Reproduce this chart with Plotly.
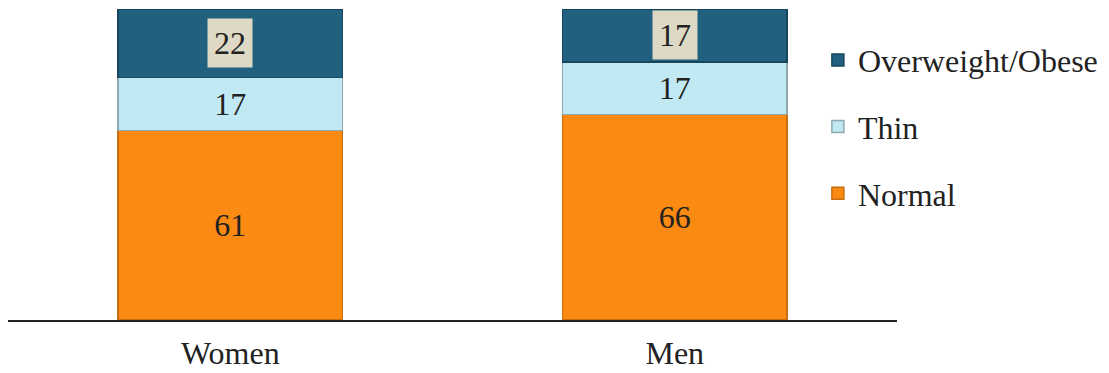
import plotly.graph_objects as go

categories = ["Women", "Men"]
normal = [61, 66]
thin = [17, 17]
overweight = [22, 17]

FONT = "Liberation Serif"
FS = 32
fig = go.Figure()
fig.add_trace(go.Bar(x=categories, y=normal, name="Normal", legendrank=3,
                     marker=dict(color="#FA8A12", line=dict(color="#C86E0E", width=1.5)),
                     text=normal, textposition="inside", insidetextanchor="middle",
                     textfont=dict(family=FONT, size=FS, color="#222222"), legendgroup="c"))
fig.add_trace(go.Bar(x=categories, y=thin, name="Thin", legendrank=2,
                     marker=dict(color="#C1E9F3", line=dict(color="#8FA9B0", width=1.5)),
                     text=thin, textposition="inside", insidetextanchor="middle",
                     textfont=dict(family=FONT, size=FS, color="#222222"), legendgroup="b"))
fig.add_trace(go.Bar(x=categories, y=overweight, name="Overweight/Obese", legendrank=1,
                     marker=dict(color="#21607F", line=dict(color="#17475F", width=1.5)),
                     legendgroup="a"))

for i, c in enumerate(categories):
    base = normal[i] + thin[i]
    fig.add_annotation(x=c, y=base + overweight[i] / 2, text=str(overweight[i]),
                       showarrow=False, bgcolor="#DDD9C4", borderpad=6,
                       font=dict(family=FONT, size=FS, color="#222222"))

fig.update_layout(
    barmode="stack", bargap=0.496,
    width=1109, height=373,
    margin=dict(l=8, r=212, t=9, b=53, autoexpand=False),
    plot_bgcolor="white", paper_bgcolor="white",
    font=dict(family=FONT, size=FS, color="#222222"),
    showlegend=True,
    legend=dict(x=0.911, y=0.924, xanchor="left", yanchor="top",
                traceorder="grouped", tracegroupgap=22,
                font=dict(family=FONT, size=FS, color="#222222")),
)
fig.update_xaxes(showline=True, linecolor="#222222", linewidth=2, ticks="",
                 ticklabelstandoff=4, automargin=False,
                 tickfont=dict(family=FONT, size=FS, color="#222222"))
fig.update_yaxes(range=[0, 100], visible=False, showgrid=False, automargin=False)

fig.write_html("out.html")
